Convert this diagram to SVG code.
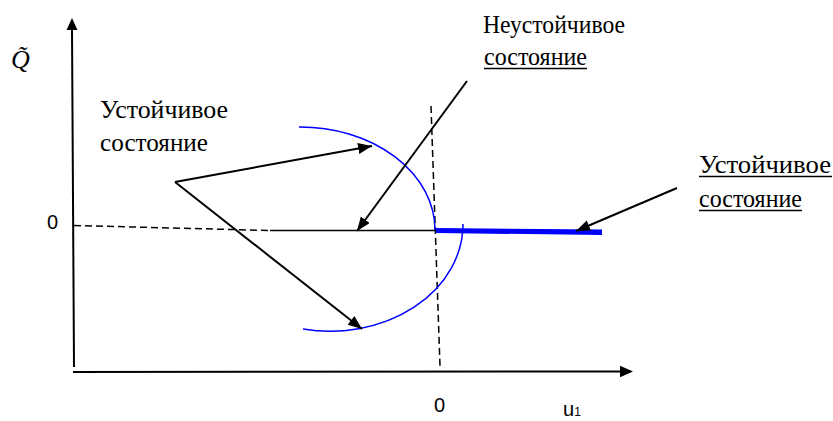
<svg xmlns="http://www.w3.org/2000/svg" width="833" height="421" viewBox="0 0 833 421">
<style>
.ax{stroke:#000;stroke-width:2;fill:none}
.arr{stroke:#000;stroke-width:2;fill:none;marker-end:url(#ah)}
.dash{stroke:#000;stroke-width:1.5;fill:none;stroke-dasharray:7 4}
.thin{stroke:#000;stroke-width:1.3;fill:none}
.blue{stroke:#0000ff;stroke-width:1.5;fill:none}
.ul{stroke:#000;stroke-width:1.6}
.ser{font-family:"Liberation Serif","DejaVu Serif","Times New Roman",serif;font-size:26px;fill:#000}
.san{font-family:"Liberation Sans",Arial,sans-serif;font-size:20px;fill:#000}
</style>
<defs>
<marker id="ah" markerUnits="userSpaceOnUse" markerWidth="16" markerHeight="12" refX="14" refY="5.5" orient="auto">
<path d="M0,0 L14,5.5 L0,11 z" fill="#000"/>
</marker>
</defs>
<rect width="833" height="421" fill="#fff"/>
<g id="axes">
<line class="ax" x1="74" y1="367" x2="72" y2="29"/>
<path d="M72,18 L77.5,30 L66.5,30 z" fill="#000"/>
<line class="ax" x1="73" y1="372" x2="621" y2="371.5"/>
<path d="M633,371.5 L620,365.8 L620,377.3 z" fill="#000"/>
</g>
<g id="curves">
<line class="dash" x1="74" y1="225.5" x2="270" y2="230.5"/>
<line class="thin" x1="270" y1="230.5" x2="436" y2="230.5"/>
<line class="dash" x1="431" y1="106" x2="440" y2="366"/>
<path class="blue" d="M299,127 A135,103 0 0 1 435,230"/>
<path class="blue" d="M463,224 A133,107 0 0 1 303,329"/>
<path d="M436,228 L602,229.5 L602,235 L436,233 z" fill="#0000ff"/>
</g>
<g id="connectors">
<line class="arr" x1="175" y1="182" x2="372" y2="146"/>
<line class="arr" x1="175" y1="182" x2="362" y2="329"/>
<line class="arr" x1="467" y1="81" x2="357" y2="231"/>
<line class="arr" x1="677" y1="188" x2="576" y2="231"/>
</g>
<g id="label-q">
<text class="ser" x="11" y="68" font-style="italic" font-size="28">Q̃</text>
</g>
<g id="label-stable-left">
<text class="ser" x="100" y="118" textLength="128" lengthAdjust="spacingAndGlyphs">Устойчивое</text>
<text class="ser" x="100" y="151" textLength="108" lengthAdjust="spacingAndGlyphs">состояние</text>
</g>
<g id="label-unstable">
<text class="ser" x="483" y="33" textLength="142" lengthAdjust="spacingAndGlyphs">Неустойчивое</text>
<text class="ser" x="484" y="65" textLength="103" lengthAdjust="spacingAndGlyphs">состояние</text>
<line class="ul" x1="484" y1="68.5" x2="587" y2="68.5"/>
</g>
<g id="label-stable-right">
<text class="ser" x="699" y="173" textLength="132" lengthAdjust="spacingAndGlyphs">Устойчивое</text>
<line class="ul" x1="699" y1="176.5" x2="832" y2="176.5"/>
<text class="ser" x="699" y="207" textLength="103" lengthAdjust="spacingAndGlyphs">состояние</text>
<line class="ul" x1="699" y1="210.5" x2="802" y2="210.5"/>
</g>
<g id="tick-labels">
<text class="san" x="47" y="229">0</text>
<text class="san" x="434" y="412">0</text>
<text class="san" x="563" y="416">u<tspan font-size="12">1</tspan></text>
</g>
</svg>
